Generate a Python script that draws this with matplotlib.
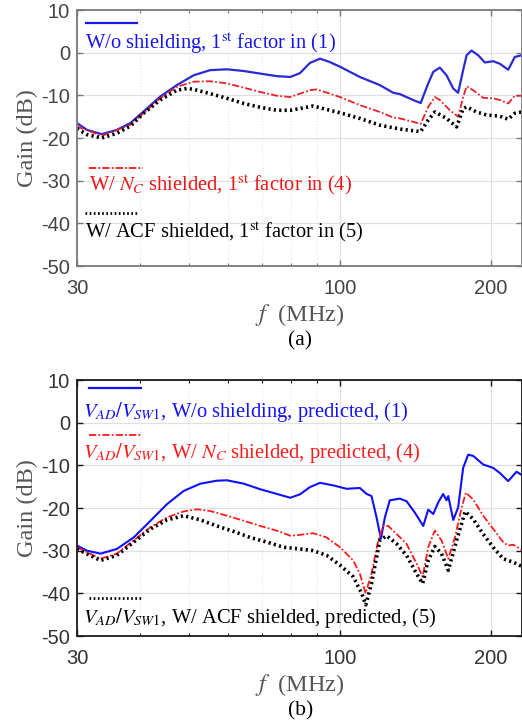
import numpy as np
import matplotlib.pyplot as plt
from matplotlib.ticker import FixedLocator, NullFormatter

plt.rcParams['font.family'] = ['Liberation Serif', 'DejaVu Serif']
plt.rcParams['mathtext.fontset'] = 'stix'

# (a) measured/first-factor curves: frequency in MHz, gain in dB
fa_blue = [30.0, 31.4, 33.6, 36.0, 38.3, 40.7, 43.9, 47.4, 51.2, 55.2, 59.6, 64.4, 69.4, 74.9,
           79.7, 83.3, 87.2, 91.3, 95.5, 100.1, 109.6, 120.1, 127.7, 131.6, 139.9, 144.8, 149.9,
           153.4, 158.1, 163.0, 168.1, 171.9, 175.9, 178.7, 182.8, 188.4, 194.3, 201.8, 208.1,
           216.2, 222.9, 230.2]
ga_blue = [-16.5, -18.1, -19.1, -18.1, -16.5, -13.8, -10.3, -7.6, -5.3, -4.1, -3.9, -4.3, -4.9, -5.5,
           -5.7, -4.8, -2.4, -1.4, -2.2, -3.3, -5.7, -7.6, -9.4, -9.7, -11.1, -11.8, -7.2,
           -4.5, -3.5, -5.3, -8.4, -9.4, -4.1, -0.6, 0.5, -0.6, -2.3, -2.0, -2.6,
           -4.0, -1.0, -0.6]

fa_red = [30.0, 33.6, 38.3, 40.7, 43.9, 47.4, 51.2, 55.2, 59.6, 64.4, 69.4, 74.9, 79.7, 83.3,
          87.2, 89.9, 95.5, 100.1, 109.6, 120.1, 127.7, 131.6, 139.9, 144.8, 149.9, 154.5, 158.1,
          165.5, 171.9, 175.9, 178.7, 184.2, 192.8, 201.8, 208.1, 216.2, 222.9, 230.2]
ga_red = [-17.3, -19.5, -16.9, -14.2, -10.7, -8.0, -6.8, -6.7, -7.2, -8.2, -9.2, -10.1, -10.4, -9.6,
          -8.8, -8.6, -9.6, -10.4, -12.3, -13.9, -15.2, -15.4, -16.2, -16.7, -12.7, -10.4, -11.1,
          -13.5, -15.0, -10.4, -7.9, -8.8, -10.6, -10.7, -11.1, -11.9, -10.1, -10.1]

fa_black = [30.0, 31.4, 33.6, 36.0, 38.3, 40.7, 43.9, 47.4, 49.6, 51.2, 55.2, 59.6, 64.4, 69.4,
            74.9, 79.7, 83.3, 88.5, 95.5, 100.1, 109.6, 120.1, 131.6, 144.8, 149.9, 154.5, 163.0,
            170.7, 175.9, 178.7, 187.0, 195.8, 208.1, 216.2, 222.9, 230.2]
ga_black = [-17.8, -19.2, -20.0, -18.9, -17.2, -14.2, -11.1, -8.8, -8.4, -8.6, -9.6, -10.7, -11.9, -12.8,
            -13.5, -13.5, -13.1, -12.5, -13.5, -14.1, -15.4, -17.0, -17.9, -18.5, -15.8, -13.9, -15.4,
            -17.4, -13.1, -12.7, -13.9, -14.6, -14.9, -15.6, -14.2, -13.9]

# (b) predicted curves
fb_blue = [30.0, 31.4, 33.4, 36.0, 38.9, 42.0, 45.3, 48.9, 52.8, 56.9, 59.6, 64.4, 69.4, 74.9,
           79.7, 83.3, 87.2, 91.3, 97.0, 103.2, 109.6, 113.0, 115.6, 118.3, 120.7, 122.9, 125.7,
           131.6, 135.7, 141.0, 146.5, 149.9, 153.4, 156.9, 160.5, 163.0, 164.3, 168.1, 171.9,
           175.9, 180.0, 184.2, 192.8, 201.8, 208.1, 216.2, 224.6, 230.2]
gb_blue = [-28.8, -30.0, -30.7, -29.6, -26.9, -23.0, -19.1, -16.0, -14.3, -13.6, -13.5, -14.3, -15.6, -16.7,
           -17.6, -16.8, -15.1, -14.1, -14.7, -15.5, -15.3, -16.7, -17.2, -22.2, -27.2, -22.2, -18.2,
           -17.8, -18.4, -21.1, -24.2, -20.4, -21.4, -18.7, -16.7, -18.2, -17.2, -22.8, -19.9,
           -10.6, -7.5, -7.8, -9.8, -10.6, -11.8, -13.7, -11.5, -12.3]

fb_red = [30.0, 33.4, 36.0, 38.9, 42.0, 45.3, 48.9, 52.0, 55.2, 59.6, 64.4, 69.4, 74.9, 79.7,
          83.3, 88.5, 94.1, 100.1, 106.3, 109.6, 112.5, 115.6, 119.2, 122.0, 124.8, 129.7, 135.7,
          142.1, 146.1, 149.9, 154.5, 159.3, 164.3, 169.4, 174.6, 178.1, 184.2, 192.8, 201.8,
          211.3, 216.2, 221.2, 230.2]
gb_red = [-29.2, -31.9, -30.7, -27.6, -24.5, -22.2, -20.8, -20.3, -20.7, -21.8, -23.0, -24.2, -25.3, -26.5,
          -26.3, -25.9, -26.9, -29.2, -32.3, -35.4, -40.0, -35.4, -27.6, -24.2, -24.2, -26.1, -28.4,
          -33.0, -36.1, -29.2, -25.3, -27.6, -31.9, -26.9, -20.0, -16.4, -18.0, -21.8, -24.9,
          -28.0, -28.8, -28.6, -29.8]

fb_black = [30.0, 33.4, 36.0, 38.9, 42.0, 45.3, 48.9, 52.8, 56.9, 61.5, 66.3, 71.6, 77.3, 83.3,
            88.5, 94.1, 100.1, 106.3, 110.5, 112.6, 115.6, 120.1, 123.9, 129.7, 135.7, 142.1, 146.1,
            149.9, 154.5, 159.3, 164.3, 170.7, 177.6, 184.2, 192.8, 201.8, 211.3, 221.2, 230.2]
gb_black = [-29.6, -32.3, -31.1, -28.0, -24.9, -22.8, -21.8, -22.8, -24.2, -25.5, -26.9, -28.0, -29.2, -29.6,
            -30.0, -31.1, -33.4, -36.1, -40.0, -42.7, -37.7, -27.6, -26.5, -28.4, -31.1, -35.4, -37.7,
            -32.3, -29.0, -30.7, -34.6, -27.6, -20.8, -22.6, -26.1, -29.2, -31.9, -32.7, -33.7]

labels_a = ["W/o shielding, 1$^{\\mathrm{st}}$ factor in (1)",
            "W/ $N_C$ shielded, 1$^{\\mathrm{st}}$ factor in (4)",
            "W/ ACF shielded, 1$^{\\mathrm{st}}$ factor in (5)"]
labels_b = ["$V_{AD}/V_{SW1}$, W/o shielding, predicted, (1)",
            "$V_{AD}/V_{SW1}$, W/ $N_C$ shielded, predicted, (4)",
            "$V_{AD}/V_{SW1}$, W/ ACF shielded, predicted, (5)"]

fig = plt.figure(figsize=(5.22, 7.25), dpi=100)
ax_a = fig.add_axes([77 / 522, 1 - 266 / 725, 444.7 / 522, 256 / 725])
ax_b = fig.add_axes([77 / 522, 1 - 636 / 725, 444.7 / 522, 256 / 725])


def style_axes(ax, spine_color, tick_color):
    ax.set_xscale('log')
    ax.set_xlim(30, 230)
    ax.set_ylim(-50, 10)
    ax.xaxis.set_major_locator(FixedLocator([30, 100, 200]))
    ax.xaxis.set_minor_locator(FixedLocator([40, 50, 60, 70, 80, 90]))
    ax.xaxis.set_minor_formatter(NullFormatter())
    ax.set_xticklabels(['30', '100', '200'])
    ax.set_yticks(np.arange(-50, 11, 10))
    ax.set_yticklabels([str(v) for v in range(-50, 11, 10)])
    for lab in ax.get_xticklabels() + ax.get_yticklabels():
        lab.set_family('Liberation Sans')
        lab.set_fontsize(14.5)
        lab.set_color(tick_color)
    ax.tick_params(which='both', direction='in', top=True, right=True, colors=spine_color,
                   labelcolor=tick_color)
    ax.tick_params(which='major', length=4, width=1)
    ax.tick_params(which='minor', length=2.5, width=0.8)
    ax.tick_params(axis='x', pad=9)
    ax.tick_params(axis='y', pad=5)
    ax.grid(which='major', color='#e0e0e0', linewidth=0.9)
    ax.grid(which='minor', axis='x', color='#e6e6e6', linewidth=0.8, linestyle=':')
    for s in ax.spines.values():
        s.set_color(spine_color)
        s.set_linewidth(1.3)
    ax.set_ylabel('Gain (dB)', fontsize=17.5, color='#555555', labelpad=2)
    ax.set_xlabel('$f$  (MHz)', fontsize=17.5, color='#555555', labelpad=3)


def legend_block(ax, rows):
    for (x0, x1, ly, tx, ty, color, ls, lw, text) in rows:
        ax.plot([x0, x1], [ly, ly], transform=ax.transAxes, color=color, linestyle=ls,
                linewidth=lw, clip_on=False)
        ax.text(tx, ty, text, transform=ax.transAxes, color=color, fontsize=14.8,
                va='center', ha='left')


# panel (a)
ax_a.plot(fa_blue, ga_blue, color='#2a2ad2', linewidth=1.6)
ax_a.plot(fa_red, ga_red, color='#e8202a', linewidth=1.3, linestyle=(0, (4, 1.2, 1, 1.2)))
ax_a.plot(fa_black, ga_black, color='black', linewidth=2.6, linestyle=(0, (0.6, 0.9)))
style_axes(ax_a, '#7a7a7a', '#444444')
legend_block(ax_a, [
    (0.020, 0.135, 0.949, 0.018, 0.871, '#1515ee', '-', 1.6, labels_a[0]),
    (0.027, 0.148, 0.383, 0.027, 0.316, '#ee1515', (0, (4, 1.2, 1, 1.2)), 1.3, labels_a[1]),
    (0.018, 0.139, 0.207, 0.018, 0.133, 'black', (0, (0.6, 0.9)), 2.0, labels_a[2]),
])
fig.text(0.575, 1 - 341 / 725, '(a)', fontsize=15.5, ha='center', va='center')

# panel (b)
ax_b.plot(fb_blue, gb_blue, color='#1010ff', linewidth=1.5)
ax_b.plot(fb_red, gb_red, color='#ff1a1a', linewidth=1.3, linestyle=(0, (4, 1.2, 1, 1.2)))
ax_b.plot(fb_black, gb_black, color='black', linewidth=2.6, linestyle=(0, (0.6, 0.9)))
style_axes(ax_b, '#1a1a1a', '#333333')
legend_block(ax_b, [
    (0.027, 0.144, 0.969, 0.0135, 0.875, '#1010ff', '-', 1.6, labels_b[0]),
    (0.027, 0.144, 0.785, 0.0135, 0.715, '#ff1a1a', (0, (4, 1.2, 1, 1.2)), 1.3, labels_b[1]),
    (0.027, 0.146, 0.148, 0.0135, 0.070, 'black', (0, (0.6, 0.9)), 2.0, labels_b[2]),
])
fig.text(0.575, 1 - 711 / 725, '(b)', fontsize=15.5, ha='center', va='center')

fig.savefig('out.png', dpi=100)
